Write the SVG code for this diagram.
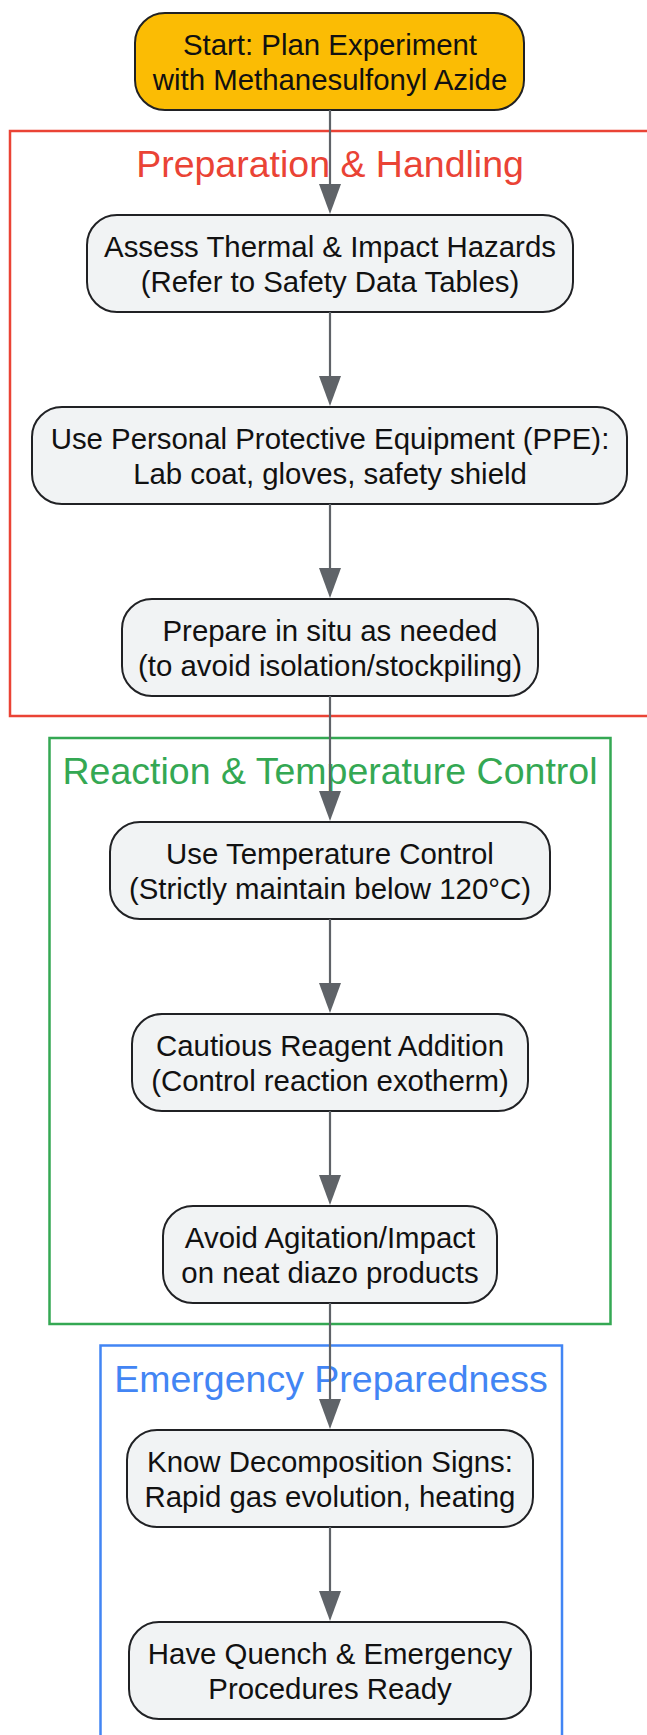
<svg xmlns="http://www.w3.org/2000/svg" width="647" height="1735" viewBox="0 0 647 1735">
<style>
.node rect{fill:#F1F3F4;stroke:#202124;stroke-width:2}
#start rect{fill:#FBBC04}
.node text{font-family:"Liberation Sans",Arial,sans-serif;font-size:29.4px;fill:#111;text-anchor:middle}
.cl{fill:none;stroke-width:2.5}
.ct{font-family:"Liberation Sans",Arial,sans-serif;font-size:37.5px;text-anchor:middle}
.edge{stroke:#5F6368;stroke-width:2.2;fill:none}
</style>
<defs>
<marker id="ah" viewBox="0 0 30 22" refX="20" refY="11" markerWidth="30" markerHeight="22" markerUnits="userSpaceOnUse" orient="auto">
<path d="M0,0 L30,11 L0,22 z" fill="#5F6368"/>
</marker>
</defs>
<rect width="647" height="1735" fill="#fff"/>
<g id="clusters">
<g id="cl-prep"><rect class="cl" x="10" y="131" width="660" height="585" stroke="#EA4335"/><text class="ct" x="330" y="177" fill="#EA4335">Preparation &amp; Handling</text></g>
<g id="cl-react"><rect class="cl" x="49.5" y="738" width="561" height="586" stroke="#34A853"/><text class="ct" x="330" y="784" fill="#34A853">Reaction &amp; Temperature Control</text></g>
<g id="cl-emerg"><rect class="cl" x="100.5" y="1345.5" width="461.5" height="430" stroke="#4285F4"/><text class="ct" x="331" y="1391.5" fill="#4285F4">Emergency Preparedness</text></g>
</g>
<g id="nodes">
<g id="start" class="node"><rect x="135" y="13" width="389" height="97" rx="30"/><text x="330" y="54.5">Start: Plan Experiment</text><text x="330" y="89.5">with Methanesulfonyl Azide</text></g>
<g id="n2" class="node"><rect x="87" y="215" width="486" height="97" rx="30"/><text x="330" y="256.5">Assess Thermal &amp; Impact Hazards</text><text x="330" y="291.5">(Refer to Safety Data Tables)</text></g>
<g id="n3" class="node"><rect x="32" y="407" width="595" height="97" rx="30"/><text x="330" y="448.5">Use Personal Protective Equipment (PPE):</text><text x="330" y="483.5">Lab coat, gloves, safety shield</text></g>
<g id="n4" class="node"><rect x="122" y="599" width="416" height="97" rx="30"/><text x="330" y="640.5">Prepare in situ as needed</text><text x="330" y="675.5">(to avoid isolation/stockpiling)</text></g>
<g id="n5" class="node"><rect x="110" y="822" width="440" height="97" rx="30"/><text x="330" y="863.5">Use Temperature Control</text><text x="330" y="898.5">(Strictly maintain below 120°C)</text></g>
<g id="n6" class="node"><rect x="132" y="1014" width="396" height="97" rx="30"/><text x="330" y="1055.5">Cautious Reagent Addition</text><text x="330" y="1090.5">(Control reaction exotherm)</text></g>
<g id="n7" class="node"><rect x="163" y="1206" width="334" height="97" rx="30"/><text x="330" y="1247.5">Avoid Agitation/Impact</text><text x="330" y="1282.5">on neat diazo products</text></g>
<g id="n8" class="node"><rect x="127" y="1430" width="406" height="97" rx="30"/><text x="330" y="1471.5">Know Decomposition Signs:</text><text x="330" y="1506.5">Rapid gas evolution, heating</text></g>
<g id="n9" class="node"><rect x="129" y="1622" width="402" height="97" rx="30"/><text x="330" y="1663.5">Have Quench &amp; Emergency</text><text x="330" y="1698.5">Procedures Ready</text></g>
</g>
<g id="edges">
<line class="edge" x1="330" y1="110" x2="330" y2="204" marker-end="url(#ah)"/>
<line class="edge" x1="330" y1="312" x2="330" y2="396" marker-end="url(#ah)"/>
<line class="edge" x1="330" y1="504" x2="330" y2="588" marker-end="url(#ah)"/>
<line class="edge" x1="330" y1="696" x2="330" y2="811" marker-end="url(#ah)"/>
<line class="edge" x1="330" y1="919" x2="330" y2="1003" marker-end="url(#ah)"/>
<line class="edge" x1="330" y1="1111" x2="330" y2="1195" marker-end="url(#ah)"/>
<line class="edge" x1="330" y1="1303" x2="330" y2="1419" marker-end="url(#ah)"/>
<line class="edge" x1="330" y1="1527" x2="330" y2="1611" marker-end="url(#ah)"/>
</g>
</svg>
